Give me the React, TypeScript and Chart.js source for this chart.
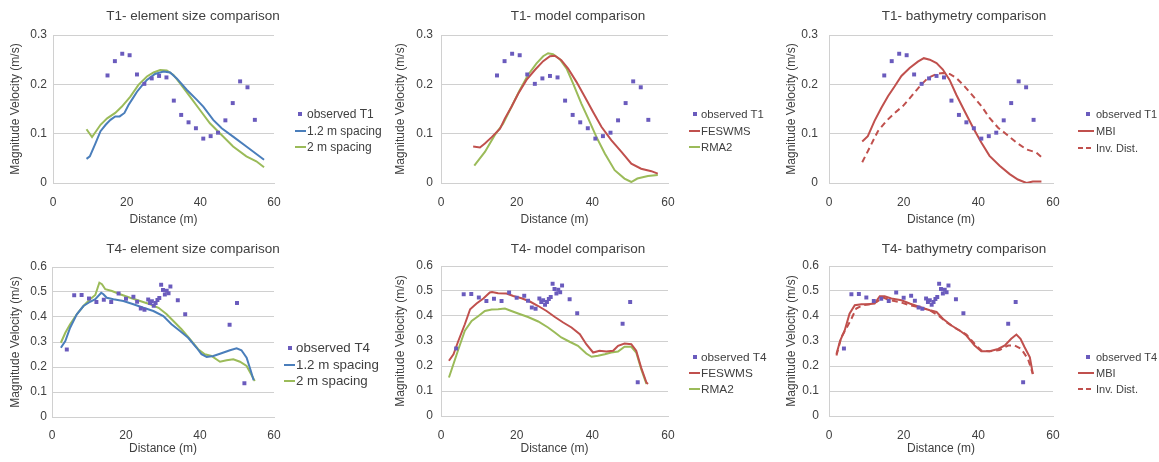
import React, { useEffect, useRef } from 'react';
import { Chart, registerables } from 'chart.js';

Chart.register(...registerables);

const FONT = '"Liberation Sans", Arial, sans-serif';
const TEXT = '#404040';
const GRID = '#d0d0d0';
const OBS = '#6a5bbd';
const BLUE = '#4a7ebb';
const GREEN = '#9bbb59';
const RED = '#c0504d';

Chart.defaults.font.family = FONT;
Chart.defaults.font.size = 12;
Chart.defaults.color = TEXT;

// ---------- Data: T1 transect ----------
const t1ObsX = [14.8, 16.8, 18.8, 20.8, 22.8, 24.8, 26.8, 28.8, 30.8, 32.8, 34.8, 36.8, 38.8, 40.8, 42.8, 44.8, 46.8, 48.8, 50.8, 52.8, 54.8];
const t1ObsY = [0.218, 0.247, 0.262, 0.259, 0.22, 0.201, 0.212, 0.217, 0.214, 0.167, 0.138, 0.123, 0.111, 0.09, 0.095, 0.102, 0.127, 0.162, 0.206, 0.194, 0.128];

const t1FineX = [9.1, 10, 11.5, 12.9, 14.3, 15.6, 16.9, 18.1, 19.4, 20.5, 21.7, 22.8, 24.2, 25.5, 27.7, 30, 31.8, 33.6, 36.3, 39, 40.8, 43.5, 45.8, 48.9, 52.5, 57.3];
const t1FineY = [0.049, 0.054, 0.08, 0.105, 0.118, 0.128, 0.135, 0.135, 0.142, 0.158, 0.172, 0.185, 0.198, 0.209, 0.221, 0.226, 0.224, 0.212, 0.189, 0.169, 0.155, 0.128, 0.111, 0.094, 0.074, 0.047];

const t1CoarseX = [9.1, 10.6, 12.9, 14.7, 16.9, 18.7, 21, 23.2, 25.5, 27.3, 29.1, 30.9, 32.7, 34.5, 37.2, 39.9, 42.6, 45.3, 48.9, 52.5, 55.2, 57.3];
const t1CoarseY = [0.109, 0.093, 0.118, 0.131, 0.142, 0.155, 0.175, 0.199, 0.216, 0.224, 0.229, 0.228, 0.219, 0.202, 0.175, 0.148, 0.121, 0.101, 0.074, 0.054, 0.044, 0.032];

const t1FeswmsX = [8.5, 10.3, 11.6, 13.4, 15.6, 16.9, 18.6, 20.4, 22.6, 24.8, 27, 28.8, 30.1, 31.8, 33.6, 35.8, 38, 40.2, 42.4, 45, 47.7, 50.3, 52.9, 55.6, 57.3];
const t1FeswmsY = [0.074, 0.072, 0.08, 0.093, 0.11, 0.131, 0.154, 0.181, 0.209, 0.229, 0.247, 0.257, 0.258, 0.249, 0.232, 0.205, 0.175, 0.144, 0.114, 0.087, 0.063, 0.039, 0.029, 0.024, 0.019];

const t1Rma2X = [8.8, 11.6, 14.2, 16.4, 18.6, 20.8, 23, 25.2, 27, 28.3, 29.6, 31.4, 33.2, 34.9, 37.1, 38.9, 41.1, 43.3, 45.9, 48.5, 50.3, 51.9, 54.7, 57.3];
const t1Rma2Y = [0.035, 0.063, 0.097, 0.12, 0.154, 0.188, 0.219, 0.242, 0.257, 0.263, 0.261, 0.251, 0.232, 0.202, 0.161, 0.131, 0.093, 0.06, 0.026, 0.009, 0.002, 0.009, 0.014, 0.016];

const t1MbiX = [8.9, 10.4, 12.2, 14, 15.8, 17.6, 19.4, 21.6, 23.8, 25.4, 27, 28.8, 30.5, 32.3, 34.1, 36.3, 38.6, 40.8, 43, 45.7, 48.4, 50.6, 52.9, 54.6, 56.9];
const t1MbiY = [0.084, 0.095, 0.126, 0.152, 0.176, 0.196, 0.217, 0.233, 0.246, 0.253, 0.25, 0.243, 0.23, 0.209, 0.179, 0.146, 0.112, 0.082, 0.055, 0.035, 0.018, 0.007, 0.0, 0.003, 0.003];

const t1InvX = [8.9, 10.9, 13.1, 15.4, 17.6, 19.8, 22.1, 24.3, 26.5, 28.8, 30.5, 32.3, 34.1, 36.3, 38.6, 40.8, 43, 45.3, 47.5, 50.2, 52.9, 55.5, 57.3];
const t1InvY = [0.042, 0.072, 0.105, 0.126, 0.142, 0.156, 0.176, 0.196, 0.213, 0.221, 0.223, 0.221, 0.213, 0.196, 0.176, 0.156, 0.132, 0.112, 0.099, 0.082, 0.068, 0.062, 0.05];

// ---------- Data: T4 transect ----------
const t4ObsX = [4, 6, 8, 10, 12, 14, 16, 18, 20, 22, 23, 24, 25, 26, 26.5, 27, 27.5, 28, 28.5, 29, 29.5, 30, 30.5, 31, 31.5, 32, 34, 36, 48, 50, 52];
const t4ObsY = [0.27, 0.487, 0.488, 0.474, 0.46, 0.469, 0.46, 0.494, 0.473, 0.481, 0.461, 0.434, 0.429, 0.47, 0.456, 0.463, 0.445, 0.456, 0.468, 0.476, 0.529, 0.508, 0.49, 0.505, 0.495, 0.522, 0.467, 0.411, 0.369, 0.456, 0.135];

const t4FineX = [2.4, 3.6, 4.9, 6.7, 8.5, 10.3, 11.7, 13.3, 13.9, 14.8, 16.6, 19.3, 22, 24.7, 27.4, 30.1, 32.3, 34.6, 36.8, 39.1, 40.4, 41.8, 43.6, 45.4, 48.1, 49.9, 51.2, 52.6, 53.6, 54.5];
const t4FineY = [0.277, 0.304, 0.357, 0.411, 0.444, 0.461, 0.471, 0.497, 0.491, 0.477, 0.471, 0.464, 0.451, 0.437, 0.424, 0.404, 0.371, 0.344, 0.317, 0.277, 0.251, 0.24, 0.244, 0.253, 0.267, 0.275, 0.267, 0.237, 0.191, 0.147];

const t4CoarseX = [2.4, 3.6, 4.9, 6.7, 8.5, 10.3, 11.7, 12.3, 12.8, 13.5, 14.4, 16.2, 18.4, 21.1, 23.8, 26.5, 28.8, 31, 32.8, 35, 37.3, 39.5, 41.3, 43.1, 45.4, 47.2, 49, 50.8, 52.6, 53.6, 54.8];
const t4CoarseY = [0.297, 0.337, 0.371, 0.411, 0.444, 0.471, 0.488, 0.515, 0.537, 0.531, 0.511, 0.504, 0.491, 0.477, 0.464, 0.451, 0.437, 0.411, 0.384, 0.351, 0.311, 0.271, 0.251, 0.244, 0.221, 0.227, 0.231, 0.221, 0.204, 0.177, 0.144];

const t4FeswmsX = [2.1, 3.3, 4.6, 6.3, 7.7, 9.4, 11.2, 12.9, 13.5, 15.1, 17.3, 19.1, 21.3, 23.5, 25.7, 27.9, 30.1, 32.3, 34.5, 36.7, 38.4, 40.2, 41.9, 43.7, 45.5, 46.8, 48.5, 50.3, 51.6, 52.9, 54.3, 54.7];
const t4FeswmsY = [0.221, 0.247, 0.301, 0.367, 0.427, 0.45, 0.47, 0.494, 0.496, 0.491, 0.49, 0.48, 0.471, 0.458, 0.44, 0.42, 0.396, 0.374, 0.354, 0.327, 0.287, 0.254, 0.261, 0.258, 0.261, 0.281, 0.29, 0.287, 0.261, 0.194, 0.134, 0.128];

const t4Rma2X = [2.1, 3.3, 4.6, 6.3, 8.1, 9.9, 11.6, 13.4, 15.1, 16.9, 18.6, 20.4, 23, 25.7, 28.3, 30.1, 31.8, 34, 36.2, 38.4, 39.8, 41.5, 43.3, 45, 46.8, 48.5, 50.3, 51.6, 52.9, 54.3];
const t4Rma2Y = [0.154, 0.208, 0.267, 0.341, 0.38, 0.4, 0.42, 0.426, 0.427, 0.43, 0.42, 0.41, 0.396, 0.378, 0.354, 0.334, 0.314, 0.297, 0.281, 0.25, 0.237, 0.241, 0.247, 0.254, 0.258, 0.277, 0.277, 0.254, 0.188, 0.128];

const t4MbiX = [2, 3, 4.2, 5.5, 6.9, 8.7, 10.4, 12.2, 13.6, 14.9, 16.7, 19.4, 21.6, 24.3, 27, 28.8, 30.5, 32.8, 35, 36.8, 39, 40.8, 43, 45.3, 47.1, 48.8, 50.2, 51.3, 52.4, 53.8, 54.6];
const t4MbiY = [0.248, 0.302, 0.342, 0.409, 0.443, 0.447, 0.447, 0.45, 0.479, 0.479, 0.47, 0.463, 0.45, 0.436, 0.423, 0.416, 0.389, 0.362, 0.342, 0.322, 0.282, 0.259, 0.259, 0.268, 0.282, 0.309, 0.326, 0.309, 0.275, 0.235, 0.168];

const t4InvX = [2, 3.3, 4.6, 6, 7.3, 9.1, 10.9, 12.7, 14.5, 16.3, 18.9, 21.6, 24.3, 27, 29.2, 31.4, 34.1, 36.8, 39, 40.8, 43, 45.7, 48, 49.7, 51.5, 53.3, 54.6];
const t4InvY = [0.242, 0.315, 0.349, 0.389, 0.43, 0.443, 0.447, 0.456, 0.474, 0.463, 0.456, 0.443, 0.434, 0.423, 0.403, 0.376, 0.349, 0.326, 0.289, 0.262, 0.259, 0.264, 0.282, 0.282, 0.268, 0.228, 0.168];

// ---------- Labels ----------
const xTicks = [0, 20, 40, 60];
const topYTicks = [0, 0.1, 0.2, 0.3];
const bottomYTicks = [0, 0.1, 0.2, 0.3, 0.4, 0.5, 0.6];
const titles = [
  'T1- element size comparison',
  'T1- model comparison',
  'T1- bathymetry comparison',
  'T4- element size comparison',
  'T4- model comparison',
  'T4- bathymetry comparison',
];
const xTitle = 'Distance (m)';
const yTitle = 'Magnitude Velocity (m/s)';

type Series = { label: string; xs: number[]; ys: number[]; kind: 'obs' | 'line'; color: string; dash?: number[] };

type PanelCfg = {
  left: number; top: number; width: number; height: number;
  title: string; yTicks: number[]; series: Series[];
  yW: number; topPad: number; rightPad: number; xH: number;
  xTickPad: number; xTitlePadB: number; yTitlePadT: number; yTickPad: number;
  titleX: number; titleY: number;
  lineX0: number; lineX1: number; markerX: number; textX: number; rows: number[]; legendFont: number;
};

const obs1: Series = { label: 'observed T1', xs: t1ObsX, ys: t1ObsY, kind: 'obs', color: OBS };
const obs4: Series = { label: 'observed T4', xs: t4ObsX, ys: t4ObsY, kind: 'obs', color: OBS };

const panels: PanelCfg[] = [
  {
    left: 0, top: 0, width: 386, height: 231, title: titles[0], yTicks: topYTicks,
    series: [obs1,
      { label: '1.2 m spacing', xs: t1FineX, ys: t1FineY, kind: 'line', color: BLUE },
      { label: '2 m spacing', xs: t1CoarseX, ys: t1CoarseY, kind: 'line', color: GREEN }],
    yW: 53, topPad: 35, rightPad: 112, xH: 48, xTickPad: 12, xTitlePadB: 4, yTitlePadT: 8, yTickPad: 6,
    titleX: 193, titleY: 16, lineX0: 295, lineX1: 306, markerX: 300, textX: 307, rows: [114, 131, 147], legendFont: 12,
  },
  {
    left: 385, top: 0, width: 386, height: 231, title: titles[1], yTicks: topYTicks,
    series: [obs1,
      { label: 'FESWMS', xs: t1FeswmsX, ys: t1FeswmsY, kind: 'line', color: RED },
      { label: 'RMA2', xs: t1Rma2X, ys: t1Rma2Y, kind: 'line', color: GREEN }],
    yW: 56, topPad: 35, rightPad: 103, xH: 48, xTickPad: 12, xTitlePadB: 4, yTitlePadT: 8, yTickPad: 8,
    titleX: 193, titleY: 16, lineX0: 304, lineX1: 315, markerX: 310, textX: 316, rows: [114, 131, 147], legendFont: 11.3,
  },
  {
    left: 770, top: 0, width: 389, height: 231, title: titles[2], yTicks: topYTicks,
    series: [obs1,
      { label: 'MBI', xs: t1MbiX, ys: t1MbiY, kind: 'line', color: RED },
      { label: 'Inv. Dist.', xs: t1InvX, ys: t1InvY, kind: 'line', color: RED, dash: [6, 4] }],
    yW: 59, topPad: 35, rightPad: 106, xH: 48, xTickPad: 12, xTitlePadB: 4, yTitlePadT: 14, yTickPad: 11,
    titleX: 194, titleY: 16, lineX0: 308, lineX1: 324, markerX: 318, textX: 326, rows: [114, 131, 148], legendFont: 11,
  },
  {
    left: 0, top: 231, width: 386, height: 231, title: titles[3], yTicks: bottomYTicks,
    series: [obs4,
      { label: '1.2 m spacing', xs: t4FineX, ys: t4FineY, kind: 'line', color: BLUE },
      { label: '2 m spacing', xs: t4CoarseX, ys: t4CoarseY, kind: 'line', color: GREEN }],
    yW: 52, topPad: 36, rightPad: 112, xH: 45, xTickPad: 11, xTitlePadB: 6, yTitlePadT: 8, yTickPad: 5,
    titleX: 193, titleY: 18, lineX0: 284, lineX1: 295, markerX: 290, textX: 296, rows: [117, 134, 150], legendFont: 13.3,
  },
  {
    left: 385, top: 231, width: 386, height: 231, title: titles[4], yTicks: bottomYTicks,
    series: [obs4,
      { label: 'FESWMS', xs: t4FeswmsX, ys: t4FeswmsY, kind: 'line', color: RED },
      { label: 'RMA2', xs: t4Rma2X, ys: t4Rma2Y, kind: 'line', color: GREEN }],
    yW: 56, topPad: 35, rightPad: 103, xH: 46, xTickPad: 12, xTitlePadB: 6, yTitlePadT: 8, yTickPad: 8,
    titleX: 193, titleY: 18, lineX0: 304, lineX1: 315, markerX: 310, textX: 316, rows: [126, 142, 158], legendFont: 11.8,
  },
  {
    left: 770, top: 231, width: 389, height: 231, title: titles[5], yTicks: bottomYTicks,
    series: [obs4,
      { label: 'MBI', xs: t4MbiX, ys: t4MbiY, kind: 'line', color: RED },
      { label: 'Inv. Dist.', xs: t4InvX, ys: t4InvY, kind: 'line', color: RED, dash: [6, 4] }],
    yW: 59, topPad: 35, rightPad: 106, xH: 46, xTickPad: 12, xTitlePadB: 6, yTitlePadT: 14, yTickPad: 10,
    titleX: 194, titleY: 18, lineX0: 308, lineX1: 324, markerX: 318, textX: 326, rows: [126, 142, 158], legendFont: 11,
  },
];

function pts(xs: number[], ys: number[]) {
  return xs.map((x, i) => ({ x, y: ys[i] }));
}

function makeDecor(cfg: PanelCfg) {
  return {
    id: 'decor',
    afterDraw(chart: any) {
      const ctx: CanvasRenderingContext2D = chart.ctx;
      ctx.save();
      ctx.fillStyle = TEXT;
      ctx.font = `13.5px ${FONT}`;
      ctx.textAlign = 'center';
      ctx.textBaseline = 'middle';
      ctx.fillText(cfg.title, cfg.titleX, cfg.titleY);
      ctx.font = `${cfg.legendFont}px ${FONT}`;
      ctx.textAlign = 'left';
      cfg.series.forEach((s, i) => {
        const y = cfg.rows[i];
        if (s.kind === 'obs') {
          ctx.fillStyle = s.color;
          ctx.fillRect(cfg.markerX - 2, y - 2, 4, 4);
        } else {
          ctx.strokeStyle = s.color;
          ctx.lineWidth = 2;
          ctx.setLineDash(s.dash ? [5, 3] : []);
          ctx.beginPath();
          ctx.moveTo(cfg.lineX0, y);
          ctx.lineTo(cfg.lineX1, y);
          ctx.stroke();
          ctx.setLineDash([]);
        }
        ctx.fillStyle = TEXT;
        ctx.fillText(s.label, cfg.textX, y + 0.5);
      });
      ctx.restore();
    },
  };
}

function Panel({ cfg }: { cfg: PanelCfg }) {
  const ref = useRef<HTMLCanvasElement>(null);
  useEffect(() => {
    const datasets: any[] = cfg.series.map((s, i) =>
      s.kind === 'obs'
        ? {
            label: s.label, data: pts(s.xs, s.ys), showLine: false,
            pointStyle: 'rect', pointRadius: 2.8, pointBorderWidth: 0,
            pointBackgroundColor: s.color, pointBorderColor: s.color,
            backgroundColor: s.color, borderColor: s.color, order: 0,
          }
        : {
            label: s.label, data: pts(s.xs, s.ys), showLine: true,
            pointRadius: 0, borderColor: s.color, backgroundColor: s.color,
            borderWidth: 2, borderDash: s.dash || [], fill: false, tension: 0, order: 1 + i,
          }
    );
    const yMax = cfg.yTicks[cfg.yTicks.length - 1];
    const chart = new Chart(ref.current as HTMLCanvasElement, {
      type: 'scatter',
      data: { datasets },
      options: {
        animation: false,
        responsive: false,
        devicePixelRatio: 1,
        layout: { padding: { left: 0, top: cfg.topPad, right: cfg.rightPad, bottom: 0 } },
        plugins: { legend: { display: false }, title: { display: false }, tooltip: { enabled: false } },
        scales: {
          x: {
            type: 'linear', position: 'bottom', min: xTicks[0], max: xTicks[xTicks.length - 1],
            afterBuildTicks: (scale: any) => { scale.ticks = xTicks.map((v) => ({ value: v })); },
            ticks: { padding: cfg.xTickPad, color: TEXT, font: { size: 12 }, maxRotation: 0, callback: (v: any) => String(v) },
            grid: { display: false, drawTicks: false },
            border: { display: true, color: GRID, width: 1 },
            title: { display: true, text: xTitle, color: TEXT, font: { size: 12 }, padding: { top: 0, bottom: cfg.xTitlePadB } },
            afterFit: (scale: any) => { scale.height = cfg.xH; },
          },
          y: {
            type: 'linear', min: 0, max: yMax,
            afterBuildTicks: (scale: any) => { scale.ticks = cfg.yTicks.map((v) => ({ value: v })); },
            ticks: { padding: cfg.yTickPad, color: TEXT, font: { size: 12 }, callback: (v: any) => (Number(v) === 0 ? '0' : Number(v).toFixed(1)) },
            grid: { color: GRID, lineWidth: 1, drawTicks: false },
            border: { display: true, color: GRID, width: 1 },
            title: { display: true, text: yTitle, color: TEXT, font: { size: 12 }, padding: { top: cfg.yTitlePadT, bottom: 0 } },
            afterFit: (scale: any) => { scale.width = cfg.yW; },
          },
        },
      } as any,
      plugins: [makeDecor(cfg)],
    });
    return () => chart.destroy();
  }, [cfg]);
  return (
    <canvas
      ref={ref}
      width={cfg.width}
      height={cfg.height}
      style={{ position: 'absolute', left: cfg.left, top: cfg.top, width: cfg.width, height: cfg.height }}
    />
  );
}

export default function App() {
  return (
    <div style={{ position: 'fixed', left: 0, top: 0, width: 1159, height: 462, background: '#ffffff', overflow: 'hidden' }}>
      {panels.map((p, i) => (
        <Panel key={i} cfg={p} />
      ))}
    </div>
  );
}
